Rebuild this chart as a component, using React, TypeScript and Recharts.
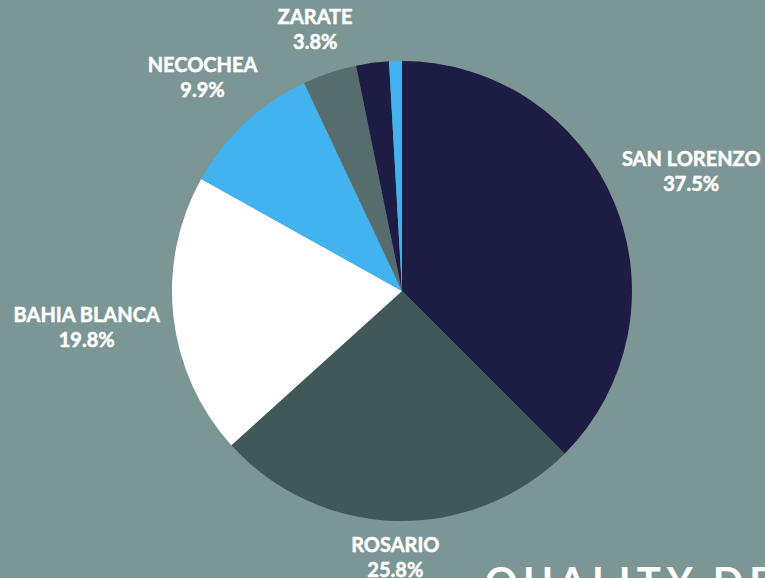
import { Cell, Pie, PieChart } from "recharts";

const ports = ["SAN LORENZO", "ROSARIO", "BAHIA BLANCA", "NECOCHEA", "ZARATE", "", ""];
const shares = [37.5, 25.8, 19.8, 9.9, 3.8, 2.3, 0.9];
const colors = ["#1d1c45", "#405858", "#ffffff", "#42b3ee", "#576d6d", "#1d1c45", "#42b3ee"];

const data = ports.map((name, i) => ({ name, value: shares[i] }));

const RAD = Math.PI / 180;
const FONT = "Lato, 'Open Sans', sans-serif";

// label box sits just outside the pie, pushed out by its own extent along the slice direction
function renderLabel(props: any) {
  const { cx, cy, midAngle, outerRadius, name, value } = props;
  if (!name) return null;
  const ux = Math.cos(-midAngle * RAD);
  const uy = Math.sin(-midAngle * RAD);
  const w = name.length * 12.5;
  const h = 50;
  const dist = outerRadius + 10 + (Math.abs(ux) * w + Math.abs(uy) * h) / 2;
  const x = cx + dist * ux;
  const y = cy + dist * uy;
  return (
    <text
      x={x}
      y={y}
      fill="#ffffff"
      stroke="#ffffff"
      strokeWidth={0.5}
      textAnchor="middle"
      fontFamily={FONT}
      fontWeight={700}
      fontSize={20}
    >
      <tspan x={x} dy={-5}>
        {name}
      </tspan>
      <tspan x={x} dy={25}>
        {`${Number(value).toFixed(1)}%`}
      </tspan>
    </text>
  );
}

export default function App() {
  return (
    <div
      style={{
        position: "fixed",
        left: 0,
        top: 0,
        width: 765,
        height: 578,
        background: "#7b9694",
        overflow: "hidden",
      }}
    >
      <PieChart width={765} height={578} margin={{ top: 0, right: 0, bottom: 0, left: 0 }}>
        <Pie
          data={data}
          dataKey="value"
          nameKey="name"
          cx={402}
          cy={291}
          outerRadius={230}
          startAngle={90}
          endAngle={-270}
          stroke="none"
          label={renderLabel}
          labelLine={false}
          isAnimationActive={false}
        >
          {data.map((d, i) => (
            <Cell key={i} fill={colors[i]} />
          ))}
        </Pie>
      </PieChart>
      <div
        style={{
          position: "absolute",
          left: 485,
          top: 561,
          color: "#ffffff",
          fontFamily: FONT,
          fontWeight: 700,
          fontSize: 40,
          letterSpacing: 6,
          whiteSpace: "nowrap",
          lineHeight: 1,
        }}
      >
        QUALITY DE
      </div>
    </div>
  );
}
